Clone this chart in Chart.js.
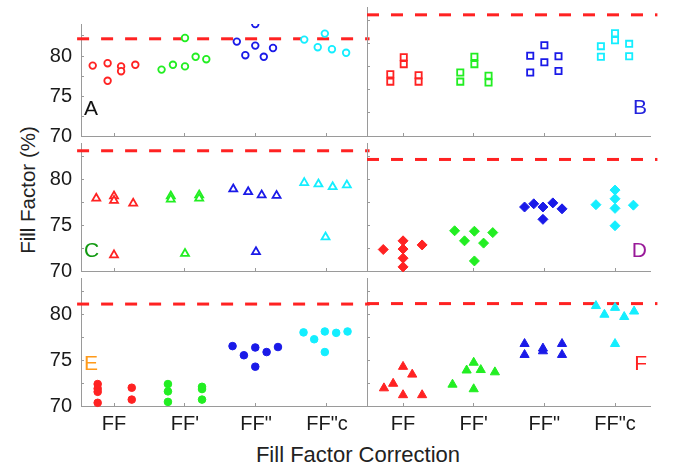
<!DOCTYPE html>
<html>
<head>
<meta charset="utf-8">
<title>Fill Factor</title>
<script src="https://cdn.jsdelivr.net/npm/chart.js@4.4.0/dist/chart.umd.min.js"></script>
<style>
  html, body { margin: 0; padding: 0; background: #fff; }
  #wrap { position: relative; width: 674px; height: 471px; overflow: hidden; }
  #wrap canvas { position: absolute; left: 0; top: 0; }
  .title { position: absolute; white-space: nowrap; font-family: 'Liberation Sans', Arial, sans-serif; color: #222; }
  .ytitle { left: 28px; top: 190px; font-size: 20.5px; transform: translate(-50%, -50%) rotate(-90deg); }
  .xtitle { left: 358px; top: 455px; font-size: 22px; transform: translate(-50%, -50%); }
</style>
</head>
<body>
<div id="wrap">
  <div class="title ytitle">Fill Factor (%)</div>
  <div class="title xtitle">Fill Factor Correction</div>
</div>
<script>
// correction methods on the x axis
const groups = ['FF', "FF'", 'FF"', 'FF"c'];
const yTicks = [70, 72.5, 75, 77.5, 80, 82.5];

// reference fill factor (dashed line) per panel A..F
const refLevels = [82.15, 83.15, 83.15, 82.2, 81.15, 81.2];

// [x position (group index with spread), fill factor %] — red, green, blue, cyan series
const A_red = [[0.70, 78.8], [0.91, 79.1], [0.91, 76.9], [1.10, 78.7], [1.10, 78.1], [1.30, 78.9]];
const A_green = [[1.67, 78.3], [1.83, 78.9], [2.00, 78.7], [2.00, 82.25], [2.15, 79.9], [2.30, 79.6]];
const A_blue = [[2.73, 81.8], [2.85, 80.1], [2.99, 81.3], [2.99, 84.0], [3.11, 79.9], [3.24, 81.0]];
const A_cyan = [[3.68, 82.05], [3.87, 81.1], [3.97, 82.8], [4.07, 80.85], [4.27, 80.4]];

const B_red = [[0.82, 76.7], [0.82, 75.9], [1.01, 78.55], [1.01, 77.8], [1.22, 76.6], [1.22, 75.9]];
const B_green = [[1.81, 76.9], [1.81, 75.9], [2.01, 78.6], [2.01, 77.8], [2.21, 76.55], [2.21, 75.8]];
const B_blue = [[2.80, 78.7], [2.80, 76.9], [3.00, 79.85], [3.00, 78.0], [3.20, 78.65], [3.20, 77.05]];
const B_cyan = [[3.80, 79.75], [3.80, 78.6], [4.00, 81.15], [4.00, 80.4], [4.20, 80.0], [4.20, 78.65]];

const C_red = [[0.75, 77.95], [1.00, 78.2], [1.00, 77.7], [1.27, 77.4], [1.00, 71.75]];
const C_green = [[1.80, 78.2], [1.80, 77.85], [2.20, 78.3], [2.20, 77.95], [2.00, 71.9]];
const C_blue = [[2.68, 78.95], [2.89, 78.65], [3.08, 78.3], [3.29, 78.25], [3.00, 72.1]];
const C_cyan = [[3.68, 79.65], [3.88, 79.5], [4.08, 79.2], [4.28, 79.4], [3.98, 73.7]];

const D_red = [[0.72, 72.35], [1.00, 73.3], [1.00, 72.4], [1.00, 71.4], [1.00, 70.45], [1.27, 72.85]];
const D_green = [[1.73, 74.4], [1.87, 73.3], [2.01, 74.35], [2.14, 73.05], [2.27, 74.2], [2.01, 71.1]];
const D_blue = [[2.72, 77.0], [2.85, 77.35], [2.98, 77.0], [3.12, 77.45], [3.25, 76.8], [2.98, 75.65]];
const D_cyan = [[3.73, 77.25], [4.00, 78.85], [4.00, 77.9], [4.00, 76.85], [4.00, 74.95], [4.26, 77.2]];

const E_red = [[0.77, 72.4], [0.77, 71.9], [0.77, 71.55], [0.77, 70.35], [1.25, 72.0], [1.25, 70.7]];
const E_green = [[1.76, 72.4], [1.76, 71.6], [1.76, 70.45], [2.24, 72.1], [2.24, 71.85], [2.24, 70.7]];
const E_blue = [[2.67, 76.55], [2.83, 75.55], [2.99, 76.4], [2.99, 74.3], [3.15, 75.9], [3.31, 76.45]];
const E_cyan = [[3.67, 78.05], [3.82, 77.3], [3.97, 78.15], [3.97, 75.9], [4.13, 78.0], [4.29, 78.15]];

const F_red = [[0.73, 71.95], [0.86, 72.45], [1.00, 74.3], [1.13, 73.45], [1.00, 71.2], [1.27, 71.2]];
const F_green = [[1.70, 72.35], [1.90, 73.9], [2.00, 74.75], [2.10, 73.95], [2.30, 73.7], [2.00, 71.85]];
const F_blue = [[2.72, 76.8], [2.72, 75.6], [2.98, 76.3], [2.98, 76.0], [3.25, 76.8], [3.25, 75.6]];
const F_cyan = [[3.73, 80.95], [3.85, 80.0], [4.00, 80.75], [4.13, 79.75], [4.27, 80.35], [4.00, 76.8]];

const seriesColors = ['#ff2222', '#22ee22', '#1a1ae8', '#14eeff'];
const axisColor = '#9a9a9a';
const FONT = "'Liberation Sans', Arial, sans-serif";
Chart.defaults.font.family = FONT;

const W = 674, H = 471;
const Y_BOX = 60;  // room kept for y tick labels
const X_BOX = 50;  // room kept for x tick labels
const columns = [
  { left: 81, right: 366, min: 0.535, max: 4.55, lineFrom: 0.48, lineTo: 4.6, labels: true },
  { left: 367, right: 650, min: 0.49, max: 4.495, lineFrom: 0.49, lineTo: 4.6, labels: false }
];
const rows = [
  { top: 7, bottom: 136, labels: false },
  { top: 143, bottom: 271, labels: false },
  { top: 278, bottom: 406, labels: true }
];

const panels = [
  { name: 'A', col: 0, row: 0, series: [A_red, A_green, A_blue, A_cyan], style: 'circle', r: 3.3, fill: false, color: '#111', lift: 21 },
  { name: 'B', col: 1, row: 0, series: [B_red, B_green, B_blue, B_cyan], style: 'rect', r: 4.4, fill: false, color: '#2222dd', lift: 22 },
  { name: 'C', col: 0, row: 1, series: [C_red, C_green, C_blue, C_cyan], style: 'triangle', r: 4.6, fill: false, color: '#119911', lift: 14 },
  { name: 'D', col: 1, row: 1, series: [D_red, D_green, D_blue, D_cyan], style: 'rectRot', r: 5, fill: true, color: '#991a99', lift: 14 },
  { name: 'E', col: 0, row: 2, series: [E_red, E_green, E_blue, E_cyan], style: 'circle', r: 3.8, fill: true, color: '#ff9a1a', lift: 36 },
  { name: 'F', col: 1, row: 2, series: [F_red, F_green, F_blue, F_cyan], style: 'triangle', r: 5.3, fill: true, color: '#ff2222', lift: 36 }
];

// panel letter in the lower corner of each plot
const panelLetter = {
  id: 'panelLetter',
  afterDatasetsDraw(chart, args, opts) {
    const { ctx, chartArea } = chart;
    ctx.save();
    ctx.font = '21px ' + FONT;
    ctx.fillStyle = opts.color;
    ctx.textBaseline = 'alphabetic';
    const onLeft = opts.side === 'left';
    ctx.textAlign = onLeft ? 'left' : 'right';
    const x = onLeft ? chartArea.left + 3 : chartArea.right - 3;
    ctx.fillText(opts.text, x, chartArea.bottom - opts.lift);
    ctx.restore();
  }
};

const wrap = document.getElementById('wrap');

panels.forEach((p, i) => {
  const col = columns[p.col];
  const row = rows[p.row];
  const canvas = document.createElement('canvas');
  canvas.width = W;
  canvas.height = H;
  wrap.appendChild(canvas);

  const datasets = p.series.map((pts, k) => ({
    data: pts.map(([x, y]) => ({ x, y })),
    pointStyle: p.style,
    pointRadius: p.r,
    pointBorderWidth: p.fill ? 1 : 1.8,
    borderColor: seriesColors[k],
    backgroundColor: p.fill ? seriesColors[k] : '#ffffff',
    showLine: false,
    clip: { left: 10, right: 10, top: 0, bottom: 10 }
  }));

  datasets.push({
    data: [{ x: col.lineFrom, y: refLevels[i] }, { x: col.lineTo, y: refLevels[i] }],
    showLine: true,
    pointRadius: 0,
    borderColor: '#ff2222',
    borderWidth: 3,
    borderDash: [12, 12],
    clip: false,
    order: 1
  });

  new Chart(canvas, {
    type: 'scatter',
    data: { datasets },
    plugins: [panelLetter],
    options: {
      responsive: false,
      animation: false,
      events: [],
      layout: {
        padding: {
          left: col.left - Y_BOX,
          right: W - col.right,
          top: row.top,
          bottom: H - row.bottom - X_BOX
        }
      },
      plugins: {
        legend: { display: false },
        tooltip: { enabled: false },
        panelLetter: { text: p.name, color: p.color, side: p.col === 0 ? 'left' : 'right', lift: p.lift }
      },
      scales: {
        x: {
          type: 'linear',
          min: col.min,
          max: col.max,
          afterFit: s => { s.height = X_BOX; },
          afterBuildTicks: s => { s.ticks = groups.map((g, j) => ({ value: j + 1 })); },
          border: { color: axisColor, width: 1 },
          grid: { drawOnChartArea: false, tickLength: -3, color: axisColor },
          ticks: {
            display: row.labels,
            padding: 9,
            color: '#1a1a1a',
            font: { size: 20 },
            maxRotation: 0,
            autoSkip: false,
            callback: v => groups[Math.round(v) - 1]
          }
        },
        y: {
          min: 70,
          max: 84,
          afterFit: s => { s.width = Y_BOX; },
          afterBuildTicks: s => { s.ticks = yTicks.map(v => ({ value: v })); },
          border: { color: axisColor, width: 1 },
          grid: { drawOnChartArea: false, tickLength: -3, color: axisColor },
          ticks: {
            display: col.labels,
            padding: 12,
            color: '#1a1a1a',
            font: { size: 20 },
            autoSkip: false,
            callback: v => (v % 5 === 0 ? String(v) : '')
          }
        }
      }
    }
  });
});
</script>
</body>
</html>
